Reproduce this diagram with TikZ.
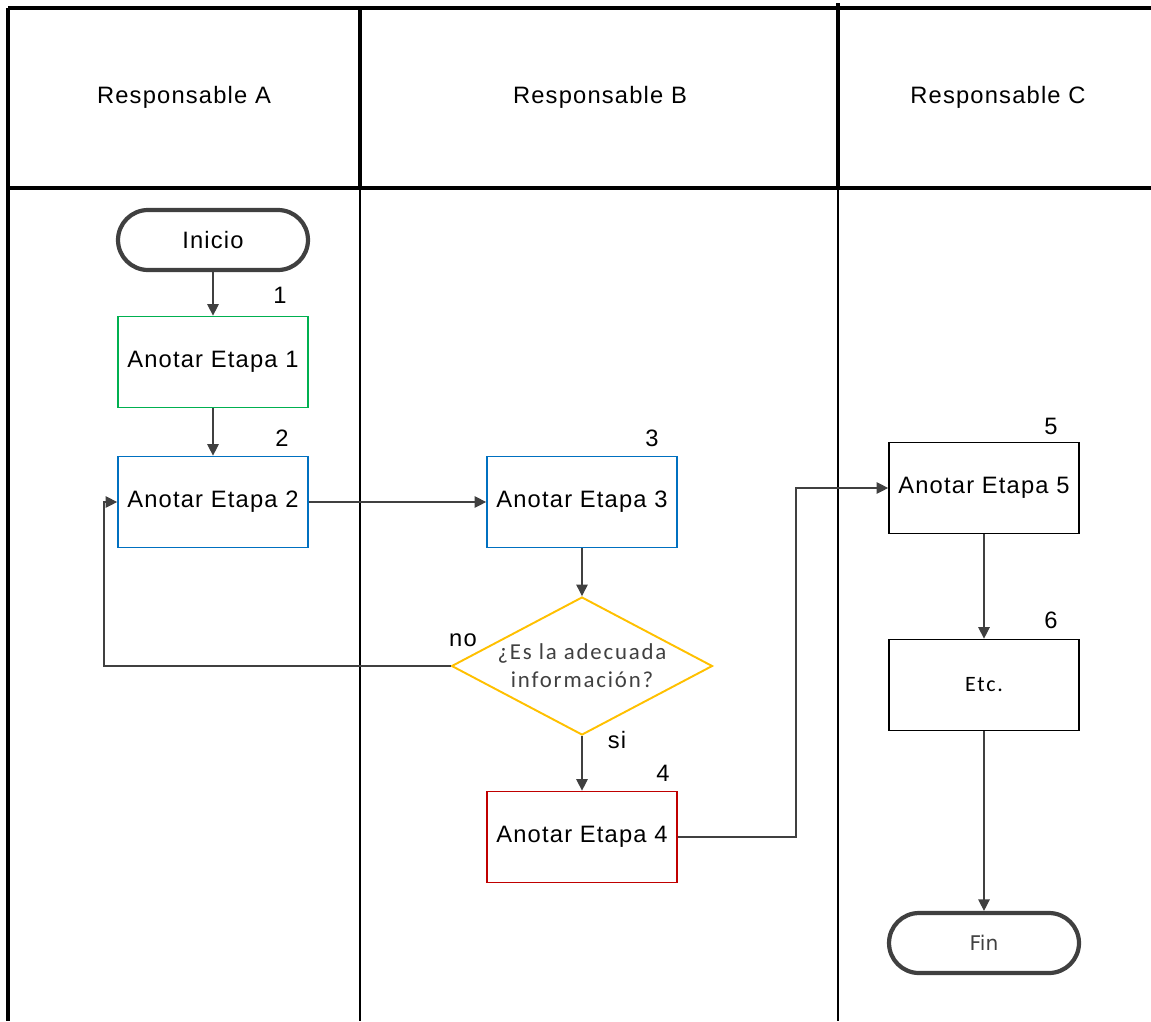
\documentclass[tikz,border=0pt]{standalone}
\usepackage{fontspec}
\setmainfont{Liberation Sans}
\newfontfamily\lanefont[LetterSpace=5]{Liberation Sans}
\newfontfamily\calfont[LetterSpace=8]{Carlito}
\newfontfamily\finfont{DejaVu Sans}
\usetikzlibrary{arrows.meta,shapes.geometric}
\definecolor{verde}{HTML}{00B050}
\definecolor{azul}{HTML}{0070C0}
\definecolor{rojo}{HTML}{C00000}
\definecolor{amarillo}{HTML}{FFC000}
\definecolor{gris}{HTML}{404040}
\tikzset{
	etapa/.style={draw, line width=1pt, minimum width=3.8cm, minimum height=1.82cm, inner sep=0pt, font=\lanefont\fontsize{13.5}{16}\selectfont},
	terminal/.style={draw=gris, line width=2.4pt, rounded corners=0.6cm, minimum width=3.8cm, minimum height=1.2cm, inner sep=0pt},
	decision/.style={diamond, draw=amarillo, line width=1.1pt, minimum width=5.22cm, minimum height=2.76cm, inner sep=0pt},
	flecha/.style={draw=gris, line width=0.7pt, -{Triangle[length=6.5pt,width=6.5pt]}},
	texto/.style={font=\lanefont\fontsize{13.5}{16}\selectfont},
	grueso/.style={line width=2pt},
	fino/.style={line width=1.1pt}
}

\begin{document}
\begin{tikzpicture}[x=0.02cm, y=-0.02cm]
		%%%%% START %%%%%
		\useasboundingbox (0, 0) rectangle (1151, 1021);
		
		\draw[grueso] (8, 8) -- (1151, 8);
		\draw[grueso] (8, 8) -- (8, 1021);
		\draw[grueso] (8, 188) -- (1151, 188);
		\draw[grueso] (360, 8) -- (360, 188);
		\draw[fino] (360, 188) -- (360, 1021);
		\draw[grueso] (838, 3) -- (838, 188);
		\draw[fino] (838, 188) -- (838, 1021);
		
		\node[texto] (hA) at (184, 97) {Responsable A};
		\node[texto] (hB) at (600, 97) {Responsable B};
		\node[texto] (hC) at (998, 97) {Responsable C};
		
		\node[terminal, texto] (inicio) at (213, 240) {Inicio};
		\node[etapa, draw=verde] (e1) at (213, 362) {Anotar Etapa 1};
		\node[etapa, draw=azul] (e2) at (213, 502) {Anotar Etapa 2};
		\node[etapa, draw=azul] (e3) at (582, 502) {Anotar Etapa 3};
		\node[decision] (q) at (582, 666) {};
		\node[font=\calfont\fontsize{13}{16}\selectfont, text=gris, align=center] (qt) at (q) {¿Es la adecuada\\información?};
		\node[etapa, draw=rojo] (e4) at (582, 837) {Anotar Etapa 4};
		\node[etapa, draw=black] (e5) at (984, 488) {Anotar Etapa 5};
		\node[etapa, draw=black, font=\calfont\fontsize{12.5}{15}\selectfont] (e6) at (984, 685) {Etc.};
		\node[terminal, font=\finfont\fontsize{11.5}{14}\selectfont, text=gris] (fin) at (984, 943) {Fin};
		
		\node[texto] (n1) at (280, 295) {1};
		\node[texto] (n2) at (282, 438) {2};
		\node[texto] (n3) at (652, 438) {3};
		\node[texto] (n4) at (663, 773) {4};
		\node[texto] (n5) at (1051, 426) {5};
		\node[texto] (n6) at (1051, 620) {6};
		\node[texto] (lno) at (463, 640) {no};
		\node[texto] (lsi) at (617, 740) {si};
		
		\coordinate (vuelta) at (104, 666);
		\coordinate (cruce) at (796, 837);
		
		\draw[flecha] (inicio) -- (e1);
		\draw[flecha] (e1) -- (e2);
		\draw[flecha] (e2) -- (e3);
		\draw[flecha] (e3) -- (q);
		\draw[flecha] (q.west) -- (vuelta) |- (e2.west);
		\draw[flecha] (q.south) -- (e4.north);
		\draw[flecha] (e4.east) -- (cruce) |- (e5.west);
		\draw[flecha] (e5) -- (e6);
		\draw[flecha] (e6) -- (fin);
		
		%%%%% END %%%%%
\end{tikzpicture}
\end{document}
